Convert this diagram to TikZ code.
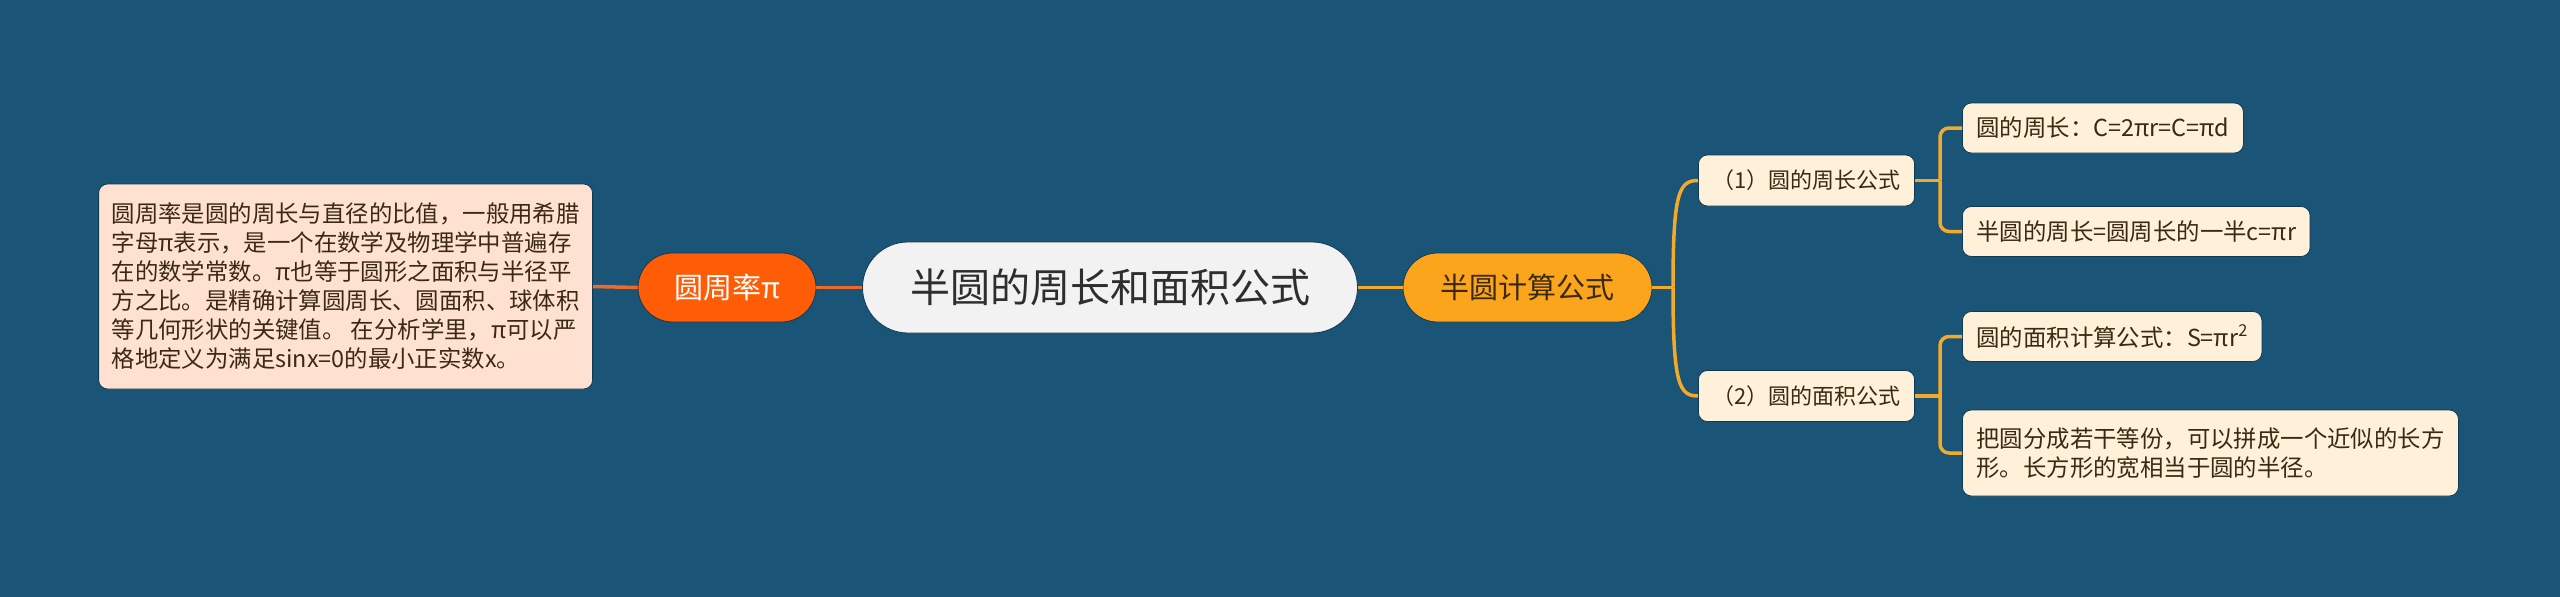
\documentclass[tikz,border=0pt]{standalone}
\usepackage{fontspec}
\setmainfont{Noto Sans CJK SC}
\definecolor{nenxanh}{RGB}{26,84,118}
\definecolor{vienxanh}{RGB}{16,58,84}
\definecolor{xamnhat}{HTML}{F2F2F2}
\definecolor{camdo}{HTML}{FF5C06}
\definecolor{daycam}{HTML}{EE6A2C}
\definecolor{daonhat}{HTML}{FFE1D2}
\definecolor{vangcam}{HTML}{FBA51D}
\definecolor{dayvang}{HTML}{F3AA2A}
\definecolor{kemnhat}{HTML}{FFF0D9}
\definecolor{chunau}{HTML}{3B2A12}
\definecolor{chuden}{HTML}{2E2E2E}

\begin{document}
\begin{tikzpicture}[x=1pt, y=-1pt, node font=\fontsize{23.4}{29}\selectfont,
	goc/.style={fill=xamnhat, draw=vienxanh, line width=0.8pt, text=chuden, rounded corners=45.5,
		minimum width=495, minimum height=91, node font=\fontsize{40}{48}\selectfont},
	nhanh/.style={draw=vienxanh, line width=0.8pt, rounded corners=34.5, minimum height=69,
		node font=\fontsize{29}{34}\selectfont},
	hopchu/.style={draw=vienxanh, line width=0.8pt, rounded corners=9, text=chunau, inner xsep=13},
	la/.style={hopchu, fill=kemnhat, inner xsep=14, minimum height=50},
	noicam/.style={daycam, line width=3.5pt},
	noivang/.style={dayvang, line width=3.5pt}]
	\fill[nenxanh] (0,0) rectangle (2560,597);
	\useasboundingbox (0,0) rectangle (2560,597);
	% giua
	\draw (1110,287.5) node[goc] (goc) {半圆的周长和面积公式};
	% ben trai
	\draw (727,287.5) node[nhanh, fill=camdo, text=white, minimum width=178] (pi) {圆周率π};
	\draw (593,286.5) node[hopchu, anchor=east, fill=daonhat, minimum height=205, align=left] (giaithich)
		{圆周率是圆的周长与直径的比值，一般用希腊\\字母π表示，是一个在数学及物理学中普遍存\\在的数学常数。π也等于圆形之面积与半径平\\方之比。是精确计算圆周长、圆面积、球体积\\等几何形状的关键值。 在分析学里，π可以严\\格地定义为满足sinx=0的最小正实数x。};
	% ben phai
	\draw (1527.5,287.5) node[nhanh, fill=vangcam, text=chunau, minimum width=249] (tinh) {半圆计算公式};
	\draw (1698,180.5) node[la, anchor=west, node font=\fontsize{22}{27}\selectfont, minimum height=51] (chuvi) {（1）圆的周长公式};
	\draw (1698,396) node[la, anchor=west, node font=\fontsize{22}{27}\selectfont, minimum height=51] (dientich) {（2）圆的面积公式};
	\draw (1962,128) node[la, anchor=west] (cv1) {圆的周长：C=2πr=C=πd};
	\draw (1962,231.5) node[la, anchor=west] (cv2) {半圆的周长=圆周长的一半c=πr};
	\draw (1962,336.5) node[la, anchor=west] (dt1) {圆的面积计算公式：S=πr\textsuperscript{2}};
	\draw (1962,453) node[la, anchor=west, minimum height=86, align=left] (dt2)
		{把圆分成若干等份，可以拼成一个近似的长方\\形。长方形的宽相当于圆的半径。};
	% duong noi
	\draw[noicam] (giaithich.east) -- (pi.west);
	\draw[noicam] (pi.east) -- (goc.west);
	\draw[noivang] (goc.east) -- (tinh.west);
	\draw[noivang] (tinh.east) -- (1673,287.5) coordinate (re);
	\draw[noivang] (re) .. controls (1673,192) and (1679,180.5) .. (chuvi.west);
	\draw[noivang] (re) .. controls (1673,384) and (1679,396) .. (dientich.west);
	\draw[noivang] (chuvi.east) -- (1940,180.5) coordinate (r1);
	\draw[noivang, rounded corners=9] (r1) |- (cv1.west);
	\draw[noivang, rounded corners=9] (r1) |- (cv2.west);
	\draw[noivang] (dientich.east) -- (1940,396) coordinate (r2);
	\draw[noivang, rounded corners=9] (r2) |- (dt1.west);
	\draw[noivang, rounded corners=9] (r2) |- (dt2.west);
\end{tikzpicture}
\end{document}
